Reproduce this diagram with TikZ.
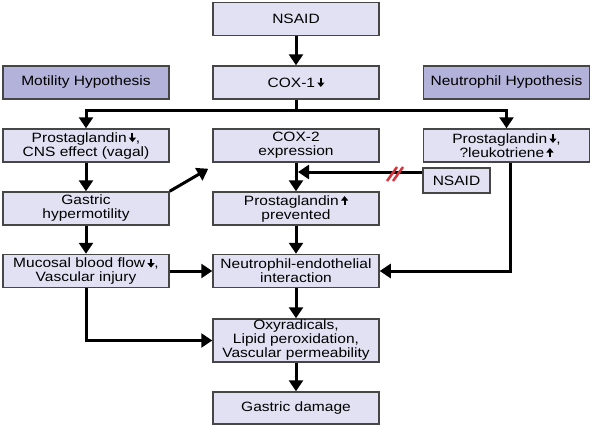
\documentclass[tikz,border=0pt]{standalone}
\usepackage{fontspec}
\setmainfont{Liberation Sans}[FakeStretch=1.15]
\usetikzlibrary{arrows.meta}

\definecolor{boxfill}{RGB}{226,225,243}
\definecolor{hypfill}{RGB}{178,178,218}
\definecolor{boxline}{RGB}{70,70,70}
\definecolor{cutred}{RGB}{215,50,60}

\newcommand{\downmark}{\tikz[baseline=0pt]\draw[black, line width=2pt, -{Triangle[length=4.5pt,width=7pt]}] (0pt,9pt) -- (0pt,0pt);}
\newcommand{\upmark}{\tikz[baseline=0pt]\draw[black, line width=2pt, -{Triangle[length=4.5pt,width=7pt]}] (0pt,0pt) -- (0pt,9pt);}

\begin{document}
\begin{tikzpicture}[x=1pt, y=-1pt,
    box/.style={draw=boxline, line width=1.5pt, fill=boxfill, minimum width=166pt, minimum height=33pt, inner sep=1pt, align=center, font=\fontsize{13.5}{14}\selectfont},
    hyp/.style={box, fill=hypfill},
    arr/.style={->, >={Triangle[length=11pt,width=14pt]}, line width=3pt}]
    \useasboundingbox (0,0) rectangle (592,426);
    \node[box] (nsaid) at (296,19) {NSAID};
    \node[box] (cox1) at (296,82.5) {COX-1\,\downmark};
    \node[hyp] (motility) at (86,82.5) {Motility Hypothesis};
    \node[hyp] (neuthyp) at (506.5,82.5) {Neutrophil Hypothesis};
    \node[box] (pgL) at (86,145.5) {Prostaglandin\,\downmark,\\CNS effect (vagal)};
    \node[box] (cox2) at (296,145.5) {COX-2\\expression};
    \node[box] (pgR) at (506.5,145.5) {Prostaglandin\,\downmark,\\?leukotriene\,\upmark};
    \node[box] (hypmot) at (86,208.5) {Gastric\\hypermotility};
    \node[box] (pgprev) at (296,208.5) {Prostaglandin\,\upmark\\prevented};
    \node[box, minimum width=67pt, minimum height=25pt] (nsaid2) at (456.5,180.5) {NSAID};
    \node[box] (mucosa) at (86,271) {Mucosal blood flow\,\downmark,\\Vascular injury};
    \node[box] (neutro) at (296,271) {Neutrophil-endothelial\\interaction};
    \node[box, minimum height=43pt] (oxy) at (296,340.5) {Oxyradicals,\\Lipid peroxidation,\\Vascular permeability};
    \node[box, minimum height=32pt] (damage) at (296,408) {Gastric damage};
    \coordinate (split) at (296,110);
    \coordinate (block) at (298,172);
    \draw[arr] (nsaid) -- (cox1);
    \draw[arr] (cox1) -- (split) -| (pgL);
    \draw[arr] (split) -| (pgR);
    \draw[arr] (pgL) -- (hypmot);
    \draw[arr] (hypmot) -- (mucosa);
    \draw[arr] (hypmot.north east) -- ([xshift=-4pt,yshift=-6pt]cox2.south west);
    \draw[arr] (cox2) -- (pgprev);
    \draw[arr] (nsaid2.west |- block) -- (block);
    \draw[cutred, line width=2.5pt] (387,181) -- (397,167) (393,181) -- (403,167);
    \draw[arr] (pgprev) -- (neutro);
    \draw[arr] (mucosa) -- (neutro);
    \draw[arr] ([xshift=4pt]pgR.south) |- (neutro);
    \draw[arr] (mucosa) |- (oxy);
    \draw[arr] (neutro) -- (oxy);
    \draw[arr] (oxy) -- (damage);
\end{tikzpicture}
\end{document}
